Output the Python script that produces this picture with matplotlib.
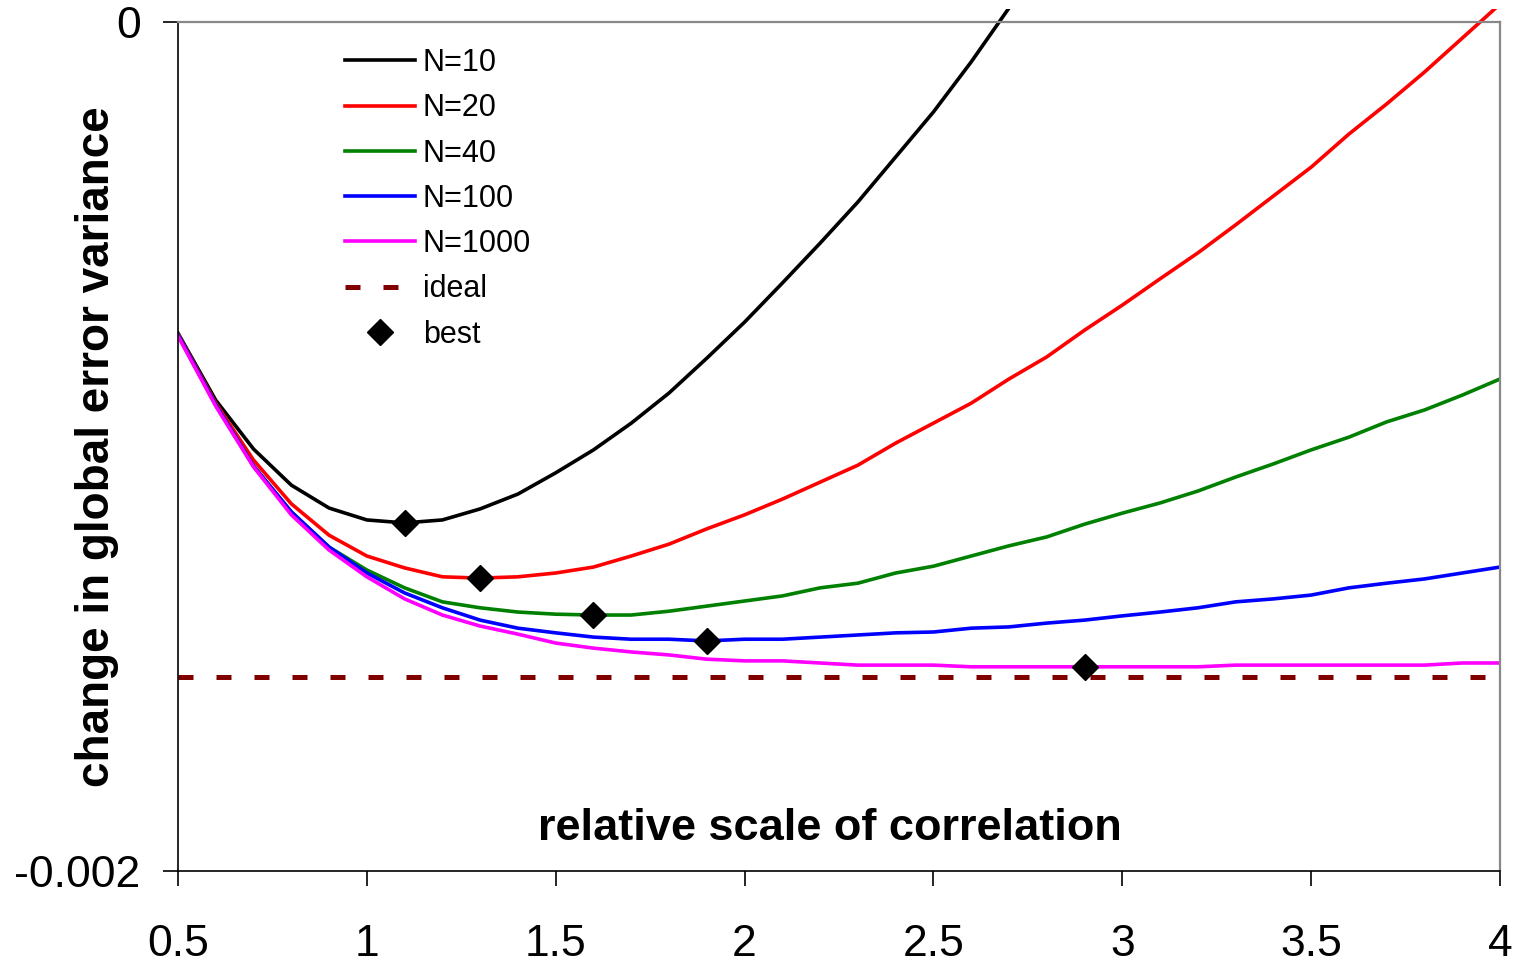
"""Change in global error variance vs relative scale of correlation."""
import numpy as np
import matplotlib.pyplot as plt
from matplotlib.patches import Rectangle

# -------------------------------------------------------
# Data (values in units of 1e-4).
# -------------------------------------------------------
scale = [0.5, 0.6, 0.7, 0.8, 0.9, 1.0, 1.1, 1.2, 1.3, 1.4, 1.5, 1.6,
         1.7, 1.8, 1.9, 2.0, 2.1, 2.2, 2.3, 2.4, 2.5, 2.6, 2.7, 2.8,
         2.9, 3.0, 3.1, 3.2, 3.3, 3.4, 3.5, 3.6, 3.7, 3.8, 3.9, 4.0]

n10 = [-7.33, -8.91, -10.06, -10.91, -11.45, -11.73, -11.80, -11.73,
       -11.47, -11.12, -10.62, -10.08, -9.45, -8.74, -7.92, -7.07,
       -6.15, -5.21, -4.24, -3.18, -2.12, -0.94, 0.33]
n20 = [-7.35, -8.98, -10.32, -11.35, -12.09, -12.58, -12.86, -13.07,
       -13.10, -13.07, -12.98, -12.84, -12.58, -12.30, -11.94, -11.61,
       -11.24, -10.84, -10.44, -9.92, -9.45, -8.98, -8.41, -7.89,
       -7.26, -6.67, -6.05, -5.44, -4.78, -4.10, -3.42, -2.64, -1.93,
       -1.18, -0.38, 0.42]
n40 = [-7.37, -9.02, -10.46, -11.54, -12.37, -12.91, -13.33, -13.66,
       -13.80, -13.90, -13.95, -13.97, -13.97, -13.88, -13.76, -13.64,
       -13.52, -13.33, -13.22, -12.98, -12.82, -12.58, -12.34, -12.13,
       -11.83, -11.57, -11.33, -11.05, -10.72, -10.41, -10.08, -9.78,
       -9.42, -9.14, -8.79, -8.41]
n100 = [-7.37, -9.02, -10.46, -11.54, -12.37, -12.98, -13.45, -13.80,
        -14.09, -14.28, -14.39, -14.49, -14.54, -14.54, -14.58, -14.54,
        -14.54, -14.49, -14.44, -14.39, -14.37, -14.28, -14.25, -14.16,
        -14.09, -13.99, -13.90, -13.80, -13.66, -13.59, -13.50, -13.33,
        -13.22, -13.12, -12.98, -12.84]
n1000 = [-7.40, -9.05, -10.48, -11.61, -12.44, -13.07, -13.59, -13.97,
         -14.23, -14.42, -14.63, -14.75, -14.84, -14.91, -15.01, -15.05,
         -15.05, -15.10, -15.15, -15.15, -15.15, -15.19, -15.19, -15.19,
         -15.19, -15.19, -15.19, -15.19, -15.15, -15.15, -15.15, -15.15,
         -15.15, -15.15, -15.10, -15.10]
ideal = -15.43

best_x = [1.1, 1.3, 1.6, 1.9, 2.9]
best_y = [-11.80, -13.10, -13.97, -14.58, -15.19]

labels = ["N=10", "N=20", "N=40", "N=100", "N=1000"]
colors = ["black", "red", "green", "blue", "magenta"]
series = [n10, n20, n40, n100, n1000]

xticks = [0.5, 1, 1.5, 2, 2.5, 3, 3.5, 4]
xticklabels = ["0.5", "1", "1.5", "2", "2.5", "3", "3.5", "4"]

# -------------------------------------------------------
# Plot.
# -------------------------------------------------------
plt.rcParams["font.family"] = ["Liberation Sans", "DejaVu Sans"]

fig = plt.figure(figsize=(15.26, 9.65), dpi=100)
ax = fig.add_axes([178 / 1526, 1 - 871 / 965, 1322 / 1526, 849 / 965])

# plot area a little taller than the axes, like the original
clip = Rectangle((0, 0), 1, 1.015, transform=ax.transAxes,
                 facecolor="none", edgecolor="none")
ax.add_patch(clip)

for vals, lab, col in zip(series, labels, colors):
    xs = scale[:len(vals)]
    line, = ax.plot(xs, np.array(vals) * 1e-4, color=col, lw=2.6, label=lab)
    line.set_clip_path(clip)

ax.axhline(ideal * 1e-4, color="#800000", lw=3.6, dashes=(3, 4.6),
           label="ideal")
ax.plot(best_x, np.array(best_y) * 1e-4, ls="none", marker="D",
        color="black", ms=13, label="best", zorder=5)

ax.set_xlim(0.5, 4)
ax.set_ylim(-0.002, 0)
ax.set_xticks(xticks)
ax.set_xticklabels(xticklabels)
ax.set_yticks([-0.002, 0])
ax.set_yticklabels(["-0.002", "0"])
ax.tick_params(axis="both", direction="out", length=11, width=1.2,
               labelsize=32, color="black")
ax.tick_params(axis="x", pad=27)
ax.tick_params(axis="y", pad=16)

for side in ["left", "bottom"]:
    ax.spines[side].set_color("black")
    ax.spines[side].set_linewidth(1.2)
for side in ["top", "right"]:
    ax.spines[side].set_color("#888888")
    ax.spines[side].set_linewidth(1.6)

leg = ax.legend(loc="upper left", bbox_to_anchor=(345 / 1526, 1 - 48 / 965),
                bbox_transform=fig.transFigure, frameon=False, fontsize=22,
                handlelength=2.3, handletextpad=0.25, labelspacing=0.5,
                borderpad=0, borderaxespad=0, numpoints=1)

fig.text(830 / 1526, 1 - 828 / 965, "relative scale of correlation",
         fontsize=32.5, fontweight="bold", ha="center", va="center")
fig.text(97 / 1526, 1 - 447 / 965, "change in global error variance",
         fontsize=33, fontweight="bold", ha="center", va="center",
         rotation=90)

plt.savefig("out.png", dpi=100)
plt.close()
